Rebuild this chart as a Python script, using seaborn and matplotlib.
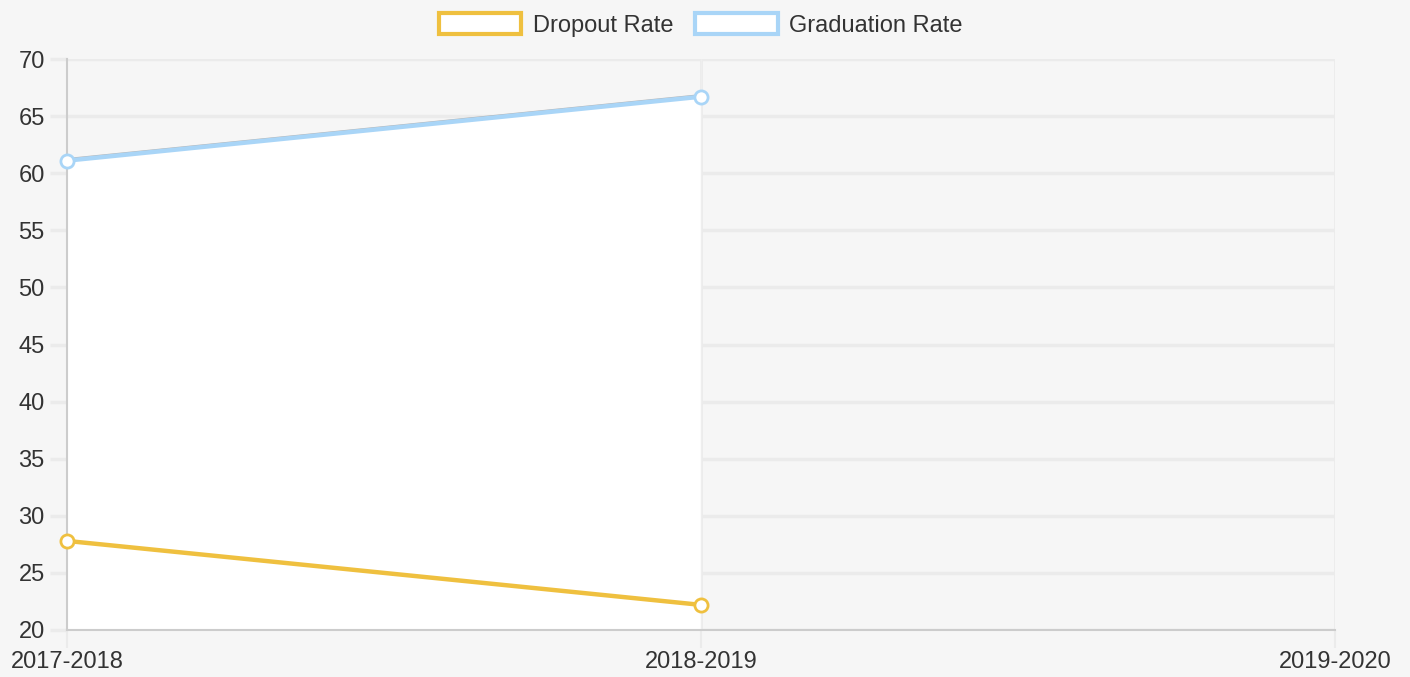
import numpy as np
import pandas as pd
import matplotlib
matplotlib.use("Agg")
import matplotlib.pyplot as plt
import matplotlib.patheffects as pe
from matplotlib.patches import Patch
import seaborn as sns

categories = ["2017-2018", "2018-2019", "2019-2020"]
dropout_rate = [27.8, 22.2, np.nan]
graduation_rate = [61.1, 66.7, np.nan]
y_ticks = [20, 25, 30, 35, 40, 45, 50, 55, 60, 65, 70]

sns.set_theme(style="white")
plt.rcParams["font.family"] = ["Liberation Sans", "DejaVu Sans"]

BG = "#f6f6f6"
GRID = "#ebebeb"
YELLOW = "#efc03f"
BLUE = "#a9d5f7"
TEXT = "#333333"

fig = plt.figure(figsize=(14.1, 6.77), dpi=100, facecolor=BG)
ax = fig.add_axes([67 / 1410, 1 - 630 / 677, (1335 - 67) / 1410, (630 - 59) / 677])
ax.set_facecolor(BG)

x = np.arange(len(categories))
df = pd.DataFrame({
    "x": np.concatenate([x, x]),
    "value": dropout_rate + graduation_rate,
    "series": ["Dropout Rate"] * len(x) + ["Graduation Rate"] * len(x),
})

# grid
for yv in y_ticks:
    ax.axhline(yv, color=GRID, lw=2.5, zorder=0.5)
for xv in x[1:]:
    ax.axvline(xv, color=GRID, lw=2.0, zorder=0.5)

# white fills
gmask = ~np.isnan(np.array(graduation_rate))
ax.fill_between(x[gmask], 20, np.array(graduation_rate)[gmask], color="white", zorder=1, lw=0)
ax.axvline(1, color="#eeeeee", lw=1.0, zorder=1.1)

sub_d = df[df.series == "Dropout Rate"].dropna()
sub_g = df[df.series == "Graduation Rate"].dropna()
sns.lineplot(data=sub_d, x="x", y="value", color=YELLOW, lw=3.2, ax=ax, zorder=5, clip_on=False)
sns.lineplot(data=sub_g, x="x", y="value", color=BLUE, lw=3.2, ax=ax, zorder=5, clip_on=False,
             path_effects=[pe.SimpleLineShadow(offset=(0, 1.4), shadow_color="#777777", alpha=0.5, linewidth=1.0),
                           pe.Normal()])
sns.scatterplot(data=sub_d, x="x", y="value", ax=ax, zorder=6, s=90, color="white",
                edgecolor=YELLOW, linewidth=2.0, clip_on=False)
sns.scatterplot(data=sub_g, x="x", y="value", ax=ax, zorder=6, s=90, color="white",
                edgecolor=BLUE, linewidth=2.0, clip_on=False)

ax.set_xlim(0, 2)
ax.set_ylim(20, 70)
ax.set_xticks(x)
ax.set_xticklabels(categories)
ax.set_yticks(y_ticks)
ax.set_yticklabels([str(v) for v in y_ticks])
ax.set_xlabel("")
ax.set_ylabel("")

for s in ["top", "right"]:
    ax.spines[s].set_visible(False)
ax.spines["left"].set_color("#cccccc")
ax.spines["left"].set_linewidth(1.5)
ax.spines["bottom"].set_color("#cccccc")
ax.spines["bottom"].set_linewidth(1.5)
ax.spines["left"].set_zorder(4)
ax.spines["bottom"].set_zorder(4)

ax.tick_params(axis="y", length=12, width=2.5, color=GRID, pad=4, labelsize=17, labelcolor=TEXT, left=True)
ax.tick_params(axis="x", length=13, width=1.5, color=GRID, pad=2, labelsize=17, labelcolor=TEXT, bottom=True)

if ax.get_legend() is not None:
    ax.get_legend().remove()

handles = [Patch(facecolor="white", edgecolor=YELLOW, linewidth=3, label="Dropout Rate"),
           Patch(facecolor="white", edgecolor=BLUE, linewidth=3, label="Graduation Rate")]
fig.legend(handles=handles, loc="upper center", bbox_to_anchor=(0.497, 1.012), ncol=2, frameon=False,
           fontsize=17, handlelength=3.5, handleheight=1.0, handletextpad=0.5, columnspacing=0.9,
           labelcolor=TEXT)

fig.savefig("out.png", dpi=100, facecolor=BG)
